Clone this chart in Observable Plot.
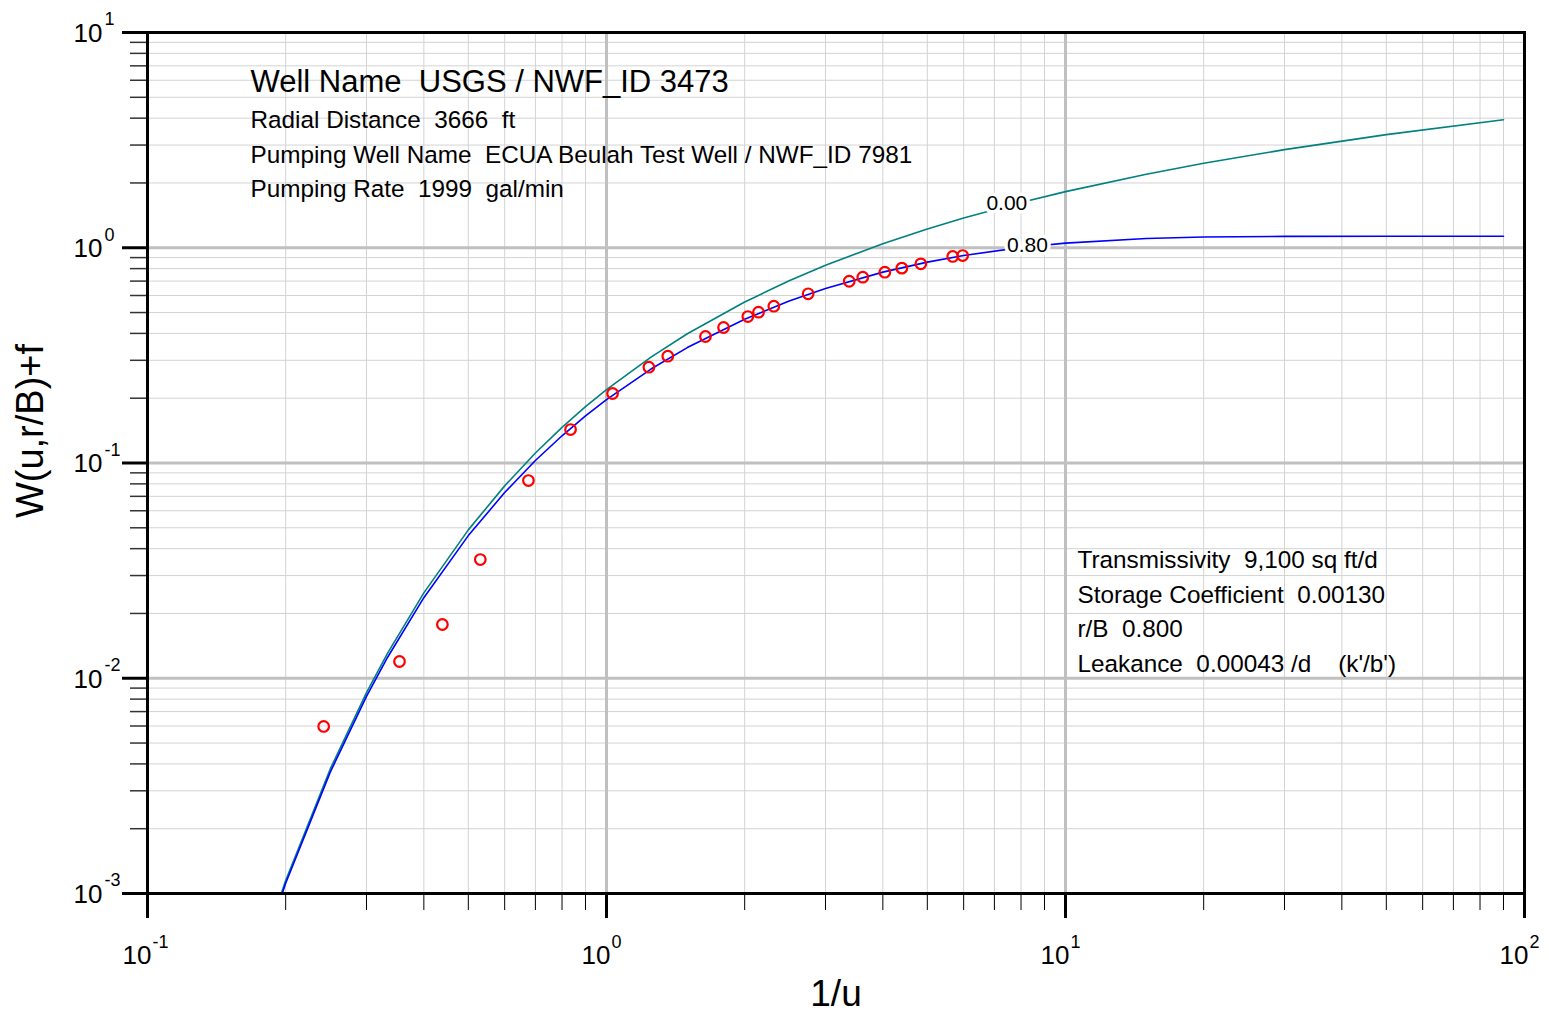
<!DOCTYPE html>
<html>
<head>
<meta charset="utf-8">
<script src="https://cdn.jsdelivr.net/npm/d3@7"></script>
<script src="https://cdn.jsdelivr.net/npm/@observablehq/plot@0.6"></script>
<style>
  html, body { margin: 0; padding: 0; background: #fff; overflow: hidden; }
  svg text { white-space: pre; }
</style>
</head>
<body>
<div id="chart"></div>
<script>
// ---- data ----
// type curve abscissa (1/u)
const curveX = [0.1667, 0.2, 0.25, 0.3, 0.3333, 0.4, 0.5, 0.6, 0.7, 0.8, 0.9, 1, 1.25, 1.5, 2, 2.5, 3, 4, 5, 6, 8, 10, 15, 20, 30, 50, 90];
// r/B = 0.00 (teal)
const curve000 = [0.00036, 0.00115, 0.00378, 0.00857, 0.01305, 0.02492, 0.0489, 0.0783, 0.1113, 0.1464, 0.1826, 0.2194, 0.3106, 0.3984, 0.5598, 0.7024, 0.8299, 1.0443, 1.2227, 1.3745, 1.6234, 1.8229, 2.1964, 2.4679, 2.857, 3.3547, 3.9337];
// r/B = 0.80 (blue)
const curve080 = [0.000352, 0.001116, 0.003654, 0.00824, 0.01249, 0.02368, 0.046, 0.0729, 0.1027, 0.1338, 0.1654, 0.197, 0.2732, 0.3437, 0.4658, 0.5654, 0.6469, 0.7704, 0.8575, 0.9207, 1.0028, 1.0505, 1.1039, 1.121, 1.1293, 1.1307, 1.1307];
// observed data (red circles)
const obsX = [0.242, 0.354, 0.439, 0.531, 0.676, 0.835, 1.031, 1.237, 1.36, 1.643, 1.799, 2.032, 2.144, 2.315, 2.75, 3.379, 3.617, 4.04, 4.4, 4.84, 5.68, 5.97];
const obsY = [0.00597, 0.01196, 0.01777, 0.0356, 0.0829, 0.143, 0.2103, 0.2787, 0.3134, 0.387, 0.426, 0.479, 0.502, 0.535, 0.611, 0.699, 0.73, 0.77, 0.804, 0.842, 0.911, 0.92];
// curve labels
const labelText = ["0.00", "0.80"];
const labelX = [7.45, 8.26];
const labelY = [1.61, 1.025];
// ticks
const xMajor = [0.1, 1, 10, 100];
const yMajor = [0.001, 0.01, 0.1, 1, 10];
const mult = [2, 3, 4, 5, 6, 7, 8, 9];
const xMinor = [0.1, 1, 10].flatMap(d => mult.map(m => +(d * m).toPrecision(3)));
const yMinor = [0.001, 0.01, 0.1, 1].flatMap(d => mult.map(m => +(d * m).toPrecision(3)));
// text
const headLine = "Well Name  USGS / NWF_ID 3473";
const infoLines = ["Radial Distance  3666  ft", "Pumping Well Name  ECUA Beulah Test Well / NWF_ID 7981", "Pumping Rate  1999  gal/min"];
const paramLines = ["Transmissivity  9,100 sq ft/d", "Storage Coefficient  0.00130", "r/B  0.800", "Leakance  0.00043 /d    (k'/b')"];
const xTitle = "1/u";
const yTitle = "W(u,r/B)+f";

const teal = curveX.map((x, i) => ({x, y: curve000[i]}));
const blue = curveX.map((x, i) => ({x, y: curve080[i]}));
const obs = obsX.map((x, i) => ({x, y: obsY[i]}));
const labels = labelText.map((t, i) => ({t, x: labelX[i], y: labelY[i]}));
const expo = d => String(Math.round(Math.log10(d)));

const font = "'Liberation Sans', Arial, Helvetica, sans-serif";

const chart = Plot.plot({
  width: 1549,
  height: 1016,
  marginLeft: 147,
  marginRight: 25,
  marginTop: 32,
  marginBottom: 123,
  style: {fontFamily: font, background: "#fff", color: "#000"},
  x: {type: "log", domain: [0.1, 100], label: null},
  y: {type: "log", domain: [0.001, 10], label: null},
  marks: [
    // grid
    Plot.ruleX(xMinor, {stroke: "#d3d3d3", strokeWidth: 1}),
    Plot.ruleY(yMinor, {stroke: "#d3d3d3", strokeWidth: 1}),
    Plot.ruleX(xMajor, {stroke: "#c0c0c0", strokeWidth: 3}),
    Plot.ruleY(yMajor, {stroke: "#c0c0c0", strokeWidth: 3}),
    // curves
    Plot.line(teal, {x: "x", y: "y", stroke: "#008080", strokeWidth: 1.6, clip: true}),
    Plot.line(blue, {x: "x", y: "y", stroke: "#0000ff", strokeWidth: 1.6, clip: true}),
    // curve labels with white halo
    Plot.text(labels, {x: "x", y: "y", text: "t", fontSize: 21, fill: "#000", stroke: "#fff", strokeWidth: 7, textAnchor: "middle"}),
    // observations
    Plot.dot(obs, {x: "x", y: "y", r: 5.3, stroke: "#ff0000", strokeWidth: 2.2, fill: "none"}),
    // axes ticks
    Plot.axisX(xMinor, {anchor: "bottom", tickSize: 17, tickFormat: () => "", label: null, stroke: "#000", strokeWidth: 1}),
    Plot.axisX(xMajor, {anchor: "bottom", tickSize: 25, tickFormat: () => "", label: null, stroke: "#000", strokeWidth: 3}),
    Plot.axisY(yMinor, {anchor: "left", tickSize: 17, tickFormat: () => "", label: null, stroke: "#333", strokeWidth: 1.5}),
    Plot.axisY(yMajor, {anchor: "left", tickSize: 25, tickFormat: () => "", label: null, stroke: "#000", strokeWidth: 3}),
    Plot.frame({stroke: "#000", strokeWidth: 3}),
    // tick labels 10^n
    Plot.text(xMajor, {x: d => d, frameAnchor: "bottom", text: () => "10", textAnchor: "end", lineAnchor: "middle", dx: 4, dy: 62, fontSize: 26}),
    Plot.text(xMajor, {x: d => d, frameAnchor: "bottom", text: expo, textAnchor: "start", lineAnchor: "middle", dx: 5, dy: 49, fontSize: 18}),
    Plot.text(yMajor, {y: d => d, frameAnchor: "left", text: () => "10", textAnchor: "end", lineAnchor: "middle", dx: -45, dy: 1, fontSize: 26}),
    Plot.text(yMajor, {y: d => d, frameAnchor: "left", text: expo, textAnchor: "start", lineAnchor: "middle", dx: -43, dy: -13, fontSize: 18}),
    // axis titles
    Plot.text([xTitle], {frameAnchor: "bottom", text: d => d, textAnchor: "middle", lineAnchor: "middle", dy: 101, fontSize: 37}),
    Plot.text([yTitle], {frameAnchor: "left", text: d => d, textAnchor: "middle", lineAnchor: "middle", rotate: -90, dx: -117, dy: -32, fontSize: 38}),
    // annotations
    Plot.text([headLine], {frameAnchor: "top-left", text: d => d, textAnchor: "start", lineAnchor: "top", dx: 103, dy: 37, fontSize: 31}),
    Plot.text([infoLines.join("\n")], {frameAnchor: "top-left", text: d => d, textAnchor: "start", lineAnchor: "top", dx: 103, dy: 71, fontSize: 24.3, lineHeight: 1.42}),
    Plot.text([paramLines.join("\n")], {frameAnchor: "top-left", text: d => d, textAnchor: "start", lineAnchor: "top", dx: 930, dy: 511, fontSize: 24.3, lineHeight: 1.42})
  ]
});
document.getElementById("chart").appendChild(chart);
</script>
</body>
</html>
